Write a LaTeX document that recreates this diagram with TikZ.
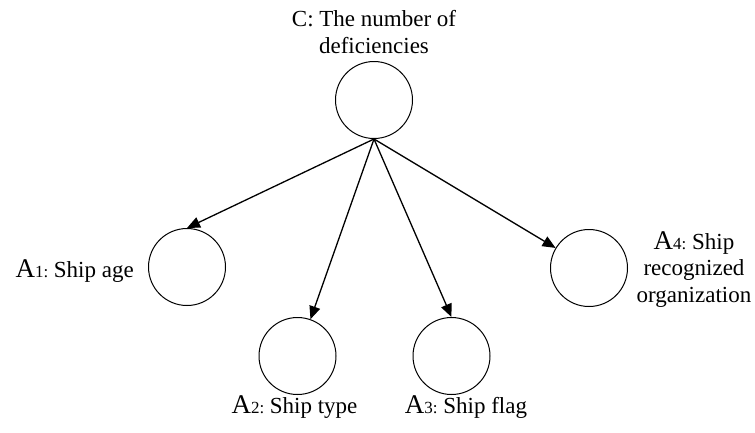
\documentclass[tikz,border=0pt]{standalone}
\usepackage{fontspec}
\setmainfont{Liberation Serif}
\usetikzlibrary{arrows.meta}
\newcommand\alab[2]{{\fontsize{27}{27}\selectfont A}{\fontsize{17}{18}\selectfont #1: }#2}
\tikzset{
  var/.style={circle,draw,line width=1pt,minimum size=77pt,inner sep=0pt},
  lab/.style={inner sep=0pt,font=\fontsize{23}{26.5}\selectfont,align=center},
  link/.style={line width=1.3pt,-{Triangle[length=13pt,width=11pt]}}
}
\begin{document}
\begin{tikzpicture}[x=1pt,y=-1pt]
\useasboundingbox (0,0) rectangle (755,432);
\node[var] (C) at (374,100) {};
\node[var] (A1) at (187,267) {};
\node[var] (A2) at (297.5,356) {};
\node[var] (A3) at (451.5,356) {};
\node[var] (A4) at (589,268) {};
\node[lab,anchor=base] (Cl) at (374,53) {C: The number of\\deficiencies};
\node[lab,anchor=base east] (A1l) at (134,277.5) {\alab{1}{Ship age}};
\node[lab,anchor=base] (A2l) at (294.5,413) {\alab{2}{Ship type}};
\node[lab,anchor=base] (A3l) at (466,413) {\alab{3}{Ship flag}};
\node[lab,anchor=base] (A4l) at (694,302) {\alab{4}{Ship}\\recognized\\organization};
\draw[link] (C.south) -- (A1.north);
\draw[link] (C.south) -- (A2);
\draw[link] (C.south) -- (A3.north);
\draw[link] (C.south) -- (A4);
\end{tikzpicture}
\end{document}
